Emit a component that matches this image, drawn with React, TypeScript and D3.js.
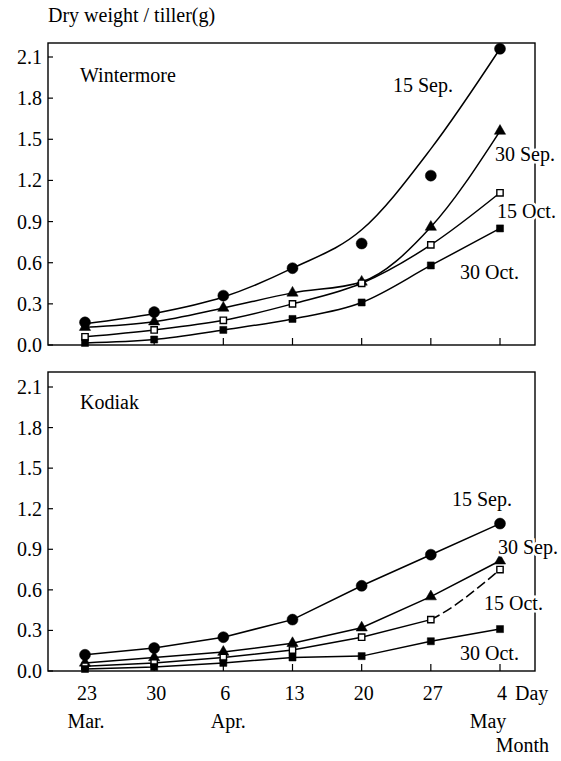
import React, { useEffect, useRef } from "react";
import * as d3 from "d3";

// days after 23 Mar.
const days = [0, 7, 14, 21, 28, 35, 42];
const dayLabels = ["23", "30", "6", "13", "20", "27", "4"];
const monthNames = ["Mar.", "Apr.", "May"];
const monthDays = [0, 14, 42];
const yTicks = [0, 0.3, 0.6, 0.9, 1.2, 1.5, 1.8, 2.1];

const seriesNames = ["15 Sep.", "30 Sep.", "15 Oct.", "30 Oct."];

// Wintermore
const wSep15 = [0.165, 0.24, 0.36, 0.56, 0.74, 1.235, 2.16];
const wSep15Fit = [0.155, 0.23, 0.35, 0.56, 0.84, 1.43, 2.16];
const wSep30 = [0.13, 0.17, 0.27, 0.38, 0.46, 0.86, 1.56];
const wOct15 = [0.06, 0.11, 0.18, 0.3, 0.45, 0.73, 1.11];
const wOct30 = [0.015, 0.04, 0.11, 0.19, 0.31, 0.58, 0.85];

// Kodiak
const kSep15 = [0.12, 0.17, 0.25, 0.38, 0.63, 0.86, 1.09];
const kSep30 = [0.06, 0.1, 0.14, 0.205, 0.32, 0.55, 0.815];
const kOct15 = [0.035, 0.06, 0.1, 0.155, 0.25, 0.38, 0.75];
const kOct30 = [0.015, 0.03, 0.06, 0.1, 0.11, 0.22, 0.31];

const FONT = "Liberation Serif, DejaVu Serif, Times New Roman, serif";

const App = () => {
  const ref = useRef<SVGSVGElement>(null);

  useEffect(() => {
    const svg = d3.select(ref.current);
    svg.selectAll("*").remove();
    svg.style("font-family", FONT).style("font-size", "20px");

    var left = 48,
      right = 535;
    var x = d3.scaleLinear().domain([0, 42]).range([85, 500]);

    const symbolFor = (i: number) => {
      if (i === 0) return d3.symbol().type(d3.symbolCircle).size(95);
      if (i === 1) return d3.symbol().type(d3.symbolTriangle).size(55);
      return d3.symbol().type(d3.symbolSquare).size(i === 2 ? 40 : 50);
    };

    const addText = (g: any, t: string, tx: number, ty: number, anchor = "start", halo = false) => {
      const el = g
        .append("text")
        .attr("x", tx)
        .attr("y", ty)
        .attr("text-anchor", anchor)
        .style("font-family", FONT)
        .style("font-size", "20px")
        .attr("fill", "#000")
        .text(t);
      if (halo) {
        el.attr("stroke", "#fff").attr("stroke-width", 5).attr("paint-order", "stroke");
      }
      return el;
    };

    const drawPanel = (opts: any) => {
      const g = svg.append("g");
      const y = d3.scaleLinear().domain([0, 2.1]).range([opts.bottom, opts.y21]);

      // frame
      g.append("rect")
        .attr("x", left)
        .attr("y", opts.top)
        .attr("width", right - left)
        .attr("height", opts.bottom - opts.top)
        .attr("fill", "none")
        .attr("stroke", "#000")
        .attr("stroke-width", 1.4);

      // y ticks (inward)
      g.selectAll("line.yt")
        .data(yTicks)
        .enter()
        .append("line")
        .attr("x1", left)
        .attr("x2", left + 5)
        .attr("y1", d => y(d))
        .attr("y2", d => y(d))
        .attr("stroke", "#000")
        .attr("stroke-width", 1.2);

      g.selectAll("text.yl")
        .data(yTicks)
        .enter()
        .append("text")
        .attr("x", left - 6)
        .attr("y", d => y(d))
        .attr("dy", "0.35em")
        .attr("text-anchor", "end")
        .style("font-family", FONT)
        .style("font-size", "20px")
        .text(d => d.toFixed(1));

      // x ticks (inward)
      g.selectAll("line.xt")
        .data(days)
        .enter()
        .append("line")
        .attr("x1", d => x(d))
        .attr("x2", d => x(d))
        .attr("y1", opts.bottom)
        .attr("y2", opts.bottom - 7)
        .attr("stroke", "#000")
        .attr("stroke-width", 1.2);

      addText(g, opts.title, 80, opts.titleY);

      const line = d3
        .line<number>()
        .x((d, i) => x(days[i]))
        .y(d => y(d))
        .curve(opts.curve);

      opts.lines.forEach((vals: number[], i: number) => {
        if (opts.dashLast === i) {
          // solid up to 27, curved dashed on to 4 May
          g.append("path")
            .attr("d", line(vals.slice(0, 6)))
            .attr("fill", "none")
            .attr("stroke", "#000")
            .attr("stroke-width", 1.5);
          const tail = g
            .append("path")
            .attr(
              "d",
              d3
                .line<number>()
                .x((d, j) => x(days[j + 4]))
                .y(d => y(d))
                .curve(d3.curveMonotoneX)(vals.slice(4))
            )
            .attr("fill", "none")
            .attr("stroke", "#000")
            .attr("stroke-width", 1.5);
          // find length along the tail where it reaches day 35
          const node = tail.node() as SVGPathElement;
          const total = node.getTotalLength();
          let lo = 0,
            hi = total;
          for (let k = 0; k < 30; k++) {
            const mid = (lo + hi) / 2;
            if (node.getPointAtLength(mid).x < x(days[5])) lo = mid;
            else hi = mid;
          }
          const pattern = [0, lo];
          let acc = 0;
          while (acc < total - lo) {
            pattern.push(10, 4);
            acc += 14;
          }
          tail.attr("stroke-dasharray", pattern.join(","));
          return;
        }
        g.append("path")
          .attr("d", line(vals))
          .attr("fill", "none")
          .attr("stroke", "#000")
          .attr("stroke-width", 1.5);
      });

      opts.points.forEach((vals: number[], i: number) => {
        g.selectAll("path.m" + i)
          .data(vals)
          .enter()
          .append("path")
          .attr("class", "m" + i)
          .attr("d", symbolFor(i) as any)
          .attr("transform", (d, j) => "translate(" + x(days[j]) + "," + y(d) + ")")
          .attr("fill", i === 2 ? "#fff" : "#000")
          .attr("stroke", "#000")
          .attr("stroke-width", i === 2 ? 1.4 : 0.5);
      });

      seriesNames.forEach((n, i) => {
        addText(g, n, opts.labels[i][0], opts.labels[i][1], "start", true);
      });
    };

    drawPanel({
      title: "Wintermore",
      titleY: 82,
      top: 43,
      bottom: 345,
      y21: 57,
      curve: d3.curveMonotoneX,
      lines: [wSep15Fit, wSep30, wOct15, wOct30],
      points: [wSep15, wSep30, wOct15, wOct30],
      labels: [
        [393, 92],
        [495, 161],
        [497, 218],
        [460, 279]
      ]
    });

    drawPanel({
      title: "Kodiak",
      titleY: 409,
      top: 372,
      bottom: 671,
      y21: 387,
      curve: d3.curveLinear,
      lines: [kSep15, kSep30, kOct15, kOct30],
      points: [kSep15, kSep30, kOct15, kOct30],
      dashLast: 2,
      labels: [
        [452, 506],
        [498, 554],
        [484, 610],
        [460, 660]
      ]
    });

    // axis titles
    addText(svg, "Dry weight / tiller(g)", 48, 22);

    svg
      .selectAll("text.dl")
      .data(dayLabels)
      .enter()
      .append("text")
      .attr("x", (d, i) => x(days[i]) + 2)
      .attr("y", 700)
      .attr("text-anchor", "middle")
      .style("font-family", FONT)
      .style("font-size", "20px")
      .text(d => d);

    addText(svg, "Day", 515, 700);

    const monthShift = [1, 5, -12];
    svg
      .selectAll("text.ml")
      .data(monthNames)
      .enter()
      .append("text")
      .attr("x", (d, i) => x(monthDays[i]) + monthShift[i])
      .attr("y", 728)
      .attr("text-anchor", "middle")
      .style("font-family", FONT)
      .style("font-size", "20px")
      .text(d => d);

    addText(svg, "Month", 549, 752, "end");
  }, []);

  return (
    <svg
      ref={ref}
      width={561}
      height={761}
      style={{ position: "absolute", left: 0, top: 0, background: "#fff" }}
    />
  );
};

export default App;
